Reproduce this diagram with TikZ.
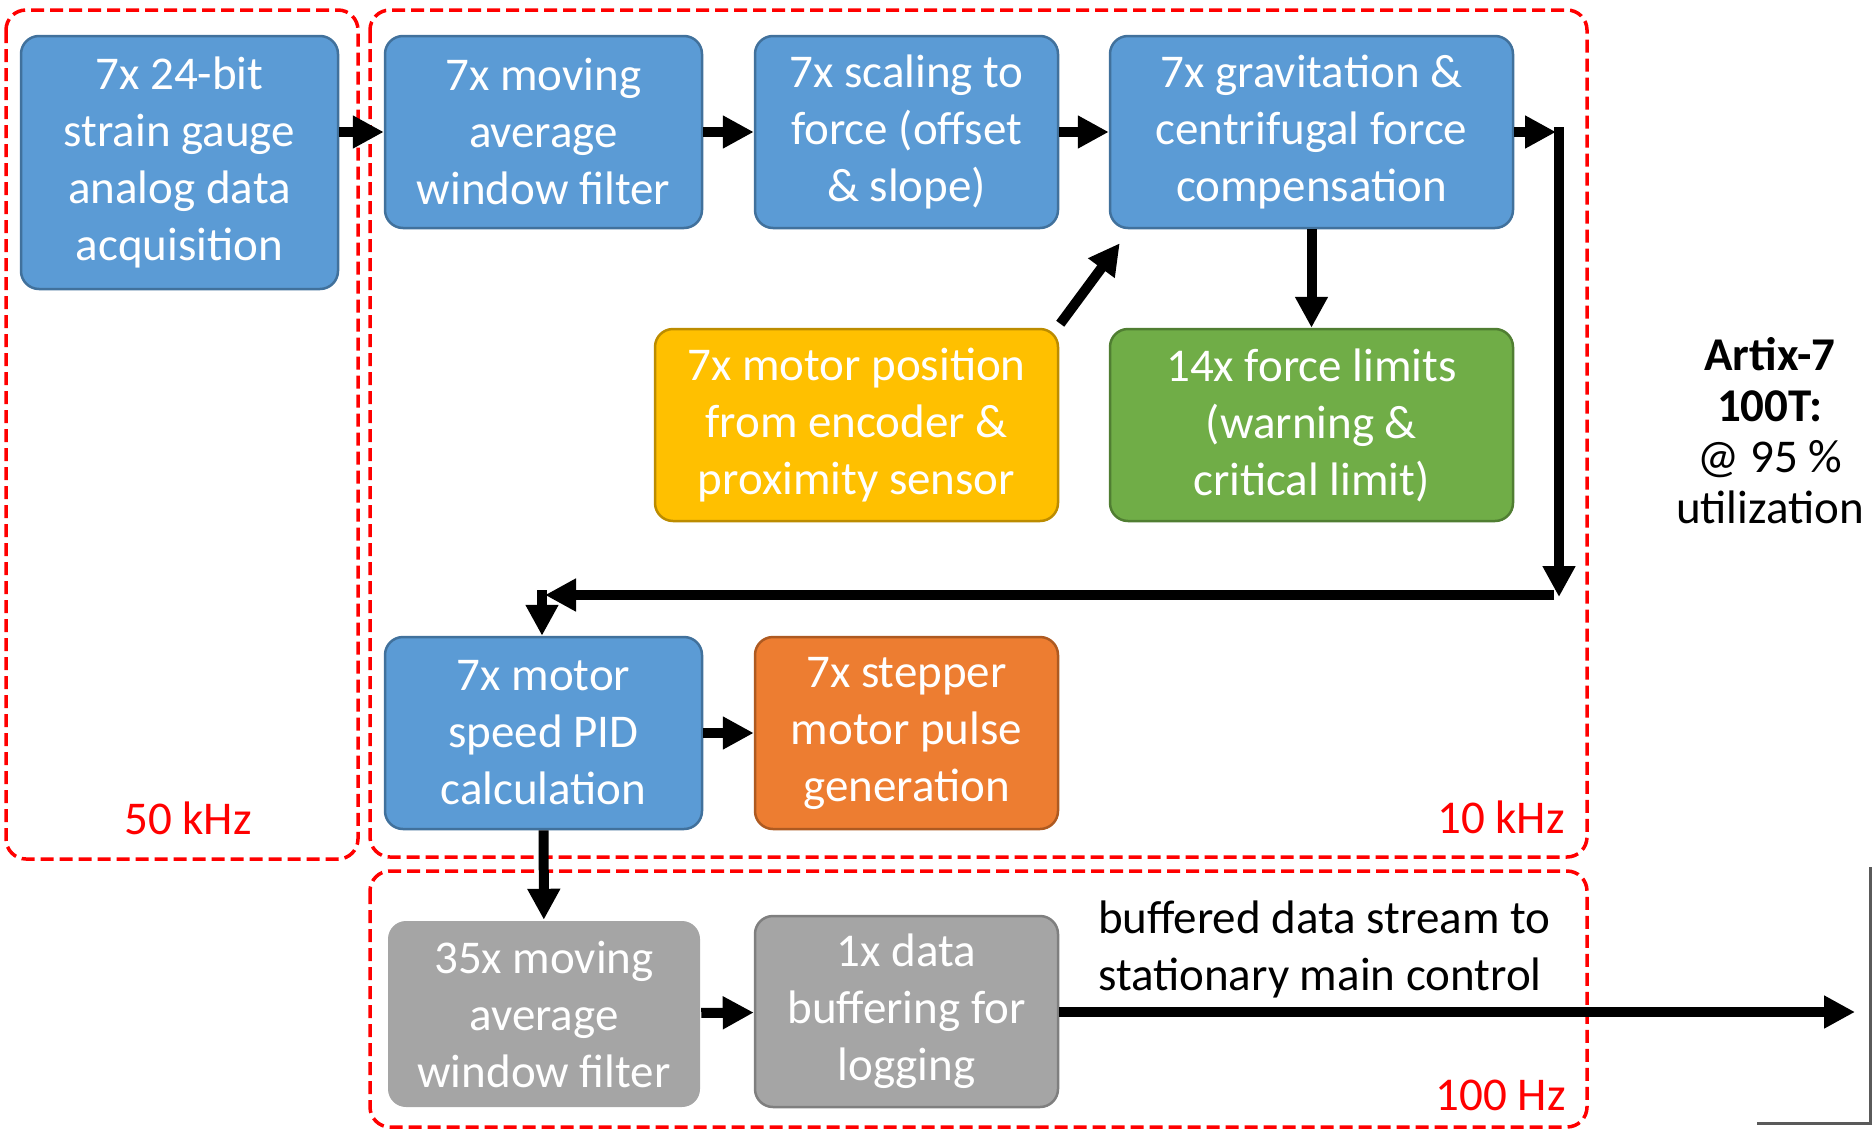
\documentclass[tikz,border=0pt]{standalone}
\usepackage{fontspec}
\setmainfont{Carlito}
\usetikzlibrary{arrows.meta,calc}
\definecolor{bluefill}{HTML}{5B9BD5}
\definecolor{bluedraw}{HTML}{41719C}
\definecolor{yelfill}{HTML}{FFC000}
\definecolor{yeldraw}{HTML}{BC8C00}
\definecolor{grnfill}{HTML}{70AD47}
\definecolor{grndraw}{HTML}{507E32}
\definecolor{orgfill}{HTML}{ED7D31}
\definecolor{orgdraw}{HTML}{AE5A21}
\definecolor{gryfill}{HTML}{A5A5A5}
\definecolor{grydraw}{HTML}{7F7F7F}
\definecolor{zonered}{HTML}{FF0000}
\definecolor{brackgray}{HTML}{5A5A5A}
\begin{document}
\begin{tikzpicture}[x=1pt,y=-1pt,
  bigfont/.style={font=\fontsize{47pt}{57pt}\selectfont},
  blk/.style={bigfont, rounded corners=18pt, line width=2.5pt, text=white, align=center, inner sep=0pt},
  blubox/.style={blk, fill=bluefill, draw=bluedraw},
  yelbox/.style={blk, fill=yelfill, draw=yeldraw},
  grnbox/.style={blk, fill=grnfill, draw=grndraw},
  orgbox/.style={blk, fill=orgfill, draw=orgdraw},
  grybox/.style={blk, fill=gryfill, draw=grydraw},
  arr/.style={line width=10pt, -{Triangle[length=31pt,width=31pt]}},
  zone/.style={draw=zonered, line width=3.5pt, dash pattern=on 13pt off 6pt, rounded corners=20pt},
  freq/.style={bigfont, text=zonered, inner sep=0pt},
  plain/.style={bigfont, text=black, inner sep=0pt}
]
\useasboundingbox (0,0) rectangle (1872,1130);

% clock-domain zones
\draw[zone] (6,10) rectangle (358,859);
\draw[zone] (370,10) rectangle (1587,857);
\draw[zone] (370,871) rectangle (1587,1127);

% blocks
\node[blubox, minimum width=317pt, minimum height=253pt] (b1) at (179.5,162.5)
  {7x 24-bit\\strain gauge\\analog data\\acquisition};
\node[blubox, minimum width=317pt, minimum height=192pt] (b2) at (543.5,132)
  {7x moving\\average\\window filter};
\node[blubox, minimum width=303pt, minimum height=192pt] (b3) at (906.5,132)
  {7x scaling to\\force (offset\\\& slope)};
\node[blubox, minimum width=403pt, minimum height=192pt] (b4) at (1311.5,132)
  {7x gravitation \&\\centrifugal force\\compensation};
\node[yelbox, minimum width=403pt, minimum height=192pt] (b5) at (856.5,425)
  {7x motor position\\from encoder \&\\proximity sensor};
\node[grnbox, minimum width=403pt, minimum height=192pt] (b6) at (1311.5,425)
  {14x force limits\\(warning \&\\critical limit)};
\node[blubox, minimum width=317pt, minimum height=192pt] (b7) at (543.5,733)
  {7x motor\\speed PID\\calculation};
\node[orgbox, minimum width=303pt, minimum height=192pt] (b8) at (906.5,733)
  {7x stepper\\motor pulse\\generation};
\node[grybox, draw=none, minimum width=312pt, minimum height=186pt] (b9) at (544,1014)
  {35x moving\\average\\window filter};
\node[grybox, minimum width=303pt, minimum height=191pt] (b10) at (906.5,1011.5)
  {1x data\\buffering for\\logging};

% labels
\node[freq, anchor=base] (f50) at (188,834) {50 kHz};
\node[freq, anchor=base east] (f10) at (1565,833) {10 kHz};
\node[freq, anchor=base east] (f100) at (1566,1110) {100 Hz};
\node[plain, align=left, anchor=west] (stream) at (1098,949)
  {buffered data stream to\\stationary main control};
\node[plain, font=\fontsize{47pt}{51pt}\selectfont, align=center] (artix) at (1770,431)
  {\textbf{Artix-7}\\\textbf{100T:}\\@ 95 \%\\utilization};

% connectors
\draw[arr] (b1.east |- b2.west) -- (b2.west);
\draw[arr] (b2) -- (b3);
\draw[arr] (b3) -- (b4);
\coordinate (c1) at (1556,132);
\draw[arr] (b4.east) -- (c1);
\coordinate (c2) at (1559,127);
\coordinate (c3) at (1559,597);
\draw[arr] (c2) -- (c3);
\coordinate (c4) at (1554,595);
\coordinate (c5) at (545,595);
\draw[arr] (c4) -- (c5);
\coordinate (c6) at (542,590);
\draw[arr] (c6) -- (c6 |- b7.north);
\draw[arr] ($(b5.north east)+(1,-4)$) -- ($(b4.south west)+(11,14)$);
\draw[arr] (b4) -- (b6);
\draw[arr] (b7) -- (b8);
\draw[arr] (b7) -- (b9);
\draw[arr] (b9) -- (b10);
\coordinate (out) at (1855,1012);
\draw[arr] (b10.east |- out) -- (out);

% board outline corner
\draw[brackgray, line width=3pt] (1870,867) -- (1870,1123) -- (1757,1123);
\end{tikzpicture}
\end{document}
